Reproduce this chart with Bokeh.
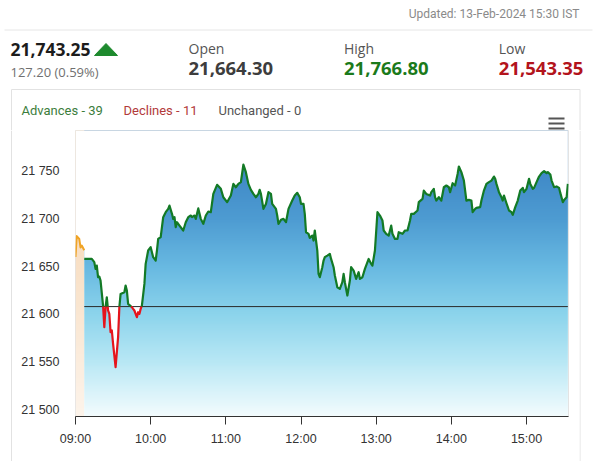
import numpy as np
from bokeh.plotting import figure
from bokeh.layouts import column, row
from bokeh.models import FixedTicker, Range1d
from bokeh.core.properties import value
from bokeh.embed import file_html
from bokeh.resources import INLINE

# ---------------- data ----------------
updated_text = "Updated: 13-Feb-2024 15:30 IST"
last_price = "21,743.25"
change_text = "127.20 (0.59%)"
stat_names = ["Open", "High", "Low"]
stat_values = ["21,664.30", "21,766.80", "21,543.35"]
breadth_labels = ["Advances - 39", "Declines - 11", "Unchanged - 0"]

x_tick_labels = ["09:00", "10:00", "11:00", "12:00", "13:00", "14:00", "15:00"]
y_ticks = [21500, 21550, 21600, 21650, 21700, 21750]
y_tick_labels = ["21 500", "21 550", "21 600", "21 650", "21 700", "21 750"]

ref_level = 21608

pre_times = ["09:00", "09:01", "09:03", "09:04", "09:05", "09:07"]
pre_values = [21660, 21682, 21679, 21670, 21672, 21667]

times = [
    "09:07", "09:13", "09:15", "09:16", "09:17", "09:18", "09:19", "09:20", "09:22", "09:23",
    "09:24", "09:25", "09:26", "09:27", "09:28", "09:29", "09:30", "09:32", "09:34", "09:35",
    "09:36", "09:39", "09:40", "09:41", "09:42", "09:45", "09:46", "09:47", "09:49", "09:50",
    "09:51", "09:52", "09:53", "09:55", "09:56", "09:58", "10:00", "10:02", "10:04", "10:05",
    "10:06", "10:08", "10:10", "10:12", "10:14", "10:15", "10:17", "10:18", "10:19", "10:20",
    "10:21", "10:23", "10:26", "10:28", "10:30", "10:32", "10:33", "10:35", "10:36", "10:38",
    "10:40", "10:42", "10:44", "10:46", "10:48", "10:50", "10:53", "10:56", "10:58", "11:01",
    "11:04", "11:06", "11:08", "11:10", "11:12", "11:14", "11:16", "11:18", "11:20", "11:22",
    "11:24", "11:26", "11:27", "11:28", "11:30", "11:32", "11:34", "11:36", "11:37", "11:40",
    "11:41", "11:42", "11:44", "11:46", "11:48", "11:50", "11:53", "11:55", "11:57", "11:59",
    "12:00", "12:02", "12:03", "12:04", "12:06", "12:07", "12:09", "12:10", "12:11", "12:13",
    "12:14", "12:15", "12:17", "12:18", "12:19", "12:21", "12:23", "12:24", "12:26", "12:27",
    "12:29", "12:31", "12:33", "12:34", "12:35", "12:37", "12:39", "12:40", "12:42", "12:44",
    "12:46", "12:47", "12:49", "12:51", "12:54", "12:56", "12:57", "12:59", "13:01", "13:03",
    "13:05", "13:06", "13:08", "13:10", "13:12", "13:13", "13:15", "13:17", "13:18", "13:21",
    "13:23", "13:25", "13:27", "13:28", "13:30", "13:33", "13:34", "13:37", "13:38", "13:40",
    "13:43", "13:44", "13:46", "13:47", "13:48", "13:50", "13:52", "13:54", "13:56", "13:58",
    "13:59", "14:01", "14:03", "14:05", "14:06", "14:08", "14:10", "14:11", "14:12", "14:14",
    "14:16", "14:17", "14:19", "14:20", "14:23", "14:24", "14:26", "14:28", "14:30", "14:32",
    "14:34", "14:35", "14:36", "14:38", "14:40", "14:41", "14:42", "14:44", "14:46", "14:48",
    "14:49", "14:51", "14:53", "14:55", "14:57", "14:58", "15:00", "15:02", "15:03", "15:05",
    "15:06", "15:08", "15:10", "15:12", "15:14", "15:16", "15:17", "15:19", "15:20", "15:22",
    "15:24", "15:26", "15:27", "15:29", "15:30", "15:32", "15:33",
]
values = [
    21658, 21658, 21654.6, 21647.5, 21651, 21638.8, 21639.5, 21635.3, 21609.1, 21586.4,
    21607.4, 21617.8, 21603.9, 21600.3, 21581.1, 21582.9, 21568.9, 21544.4, 21575.9, 21607.4,
    21621.3, 21623.1, 21630.1, 21624.8, 21610.8, 21607.4, 21605.6, 21603.9, 21596.9, 21602.1,
    21600.3, 21605.6, 21609.1, 21631.8, 21652.8, 21666.8, 21670.3, 21659.8, 21656.3, 21666.8,
    21679, 21680.8, 21701.8, 21707, 21710.5, 21714, 21705.3, 21700, 21701.8, 21691.3,
    21696.5, 21693, 21687.8, 21696.5, 21701.8, 21703.5, 21701.8, 21703.5, 21700, 21711,
    21700, 21694.8, 21703.5, 21707.7, 21707, 21726.2, 21735.7, 21731.5, 21722.7, 21717.5,
    21724.5, 21736.7, 21733.2, 21736.7, 21738.5, 21757, 21749, 21736.7, 21730.4, 21726.2,
    21722.7, 21726.2, 21730.4, 21726.2, 21710.5, 21715.7, 21728, 21726.2, 21715.7, 21710.5,
    21703.5, 21694.8, 21699, 21700, 21696.5, 21710.5, 21719.2, 21724.5, 21727.3, 21722.7,
    21715.7, 21715.7, 21705.3, 21686, 21684.3, 21680.1, 21682.5, 21677.3, 21687.8, 21666.8,
    21642.3, 21638.8, 21649.3, 21656.3, 21659.8, 21661.5, 21663.3, 21658, 21649.3, 21640.6,
    21628.3, 21626.6, 21633.6, 21642.3, 21633.6, 21619.6, 21635.3, 21649.3, 21645.8, 21637.1,
    21644.1, 21637.1, 21638.8, 21647.6, 21658, 21652.8, 21651, 21666.8, 21707, 21703.5,
    21698.3, 21687.8, 21684.3, 21682.5, 21693, 21684.3, 21679, 21679, 21686, 21684.3,
    21687.8, 21687.8, 21698.3, 21705.3, 21705.3, 21708.8, 21717.5, 21721, 21729.7, 21726.2,
    21724.5, 21728, 21731.5, 21722.7, 21719.2, 21722.7, 21719.2, 21733.2, 21735, 21733.2,
    21728, 21737.4, 21735, 21747.2, 21754.9, 21749, 21740.2, 21729.7, 21719.2, 21719.9,
    21719.2, 21707, 21710.5, 21711.6, 21712.3, 21719.2, 21729.7, 21736.7, 21738.5, 21740.2,
    21744.4, 21742, 21736.7, 21728, 21722.7, 21719.2, 21724.5, 21716.4, 21708.8, 21707,
    21704.2, 21712.3, 21719.2, 21729.7, 21732.5, 21728, 21731.5, 21742, 21736.7, 21731.5,
    21732.5, 21738.5, 21744.4, 21747.9, 21750, 21747.9, 21749, 21746.5, 21740.2, 21733.2,
    21734, 21732.5, 21727, 21717.5, 21719.9, 21722.7, 21736.7,
]

# ---------------- helpers ----------------
def to_min(s):
    h, m = s.split(":")
    return (int(h) - 9) * 60 + int(m)

pre_x = [to_min(s) for s in pre_times]
main_x = [to_min(s) for s in times]
x_ticks = [to_min(s) for s in x_tick_labels]

# split the line into above (green) / below (red) parts at the reference level
ax, ay = [main_x[0]], [values[0]]
for i in range(1, len(main_x)):
    a, b = values[i - 1], values[i]
    if (a - ref_level) * (b - ref_level) < 0:
        f = (ref_level - a) / (b - a)
        ax.append(main_x[i - 1] + f * (main_x[i] - main_x[i - 1]))
        ay.append(ref_level)
    ax.append(main_x[i])
    ay.append(values[i])
ay = np.array(ay, dtype=float)
green_y = np.where(ay >= ref_level, ay, np.nan)
red_y = np.where(ay <= ref_level, ay, np.nan)

Y0, Y1 = 21492.7, 21792.7
X0, X1 = 0, 393.5

def gradient(stops, n=300):
    fr = np.linspace(0, 1, n)
    img = np.zeros((n, 1), dtype=np.uint32)
    view = img.view(dtype=np.uint8).reshape((n, 1, 4))
    pos = [s[0] for s in stops]
    for c in range(3):
        view[:, 0, c] = np.interp(fr, pos, [s[1][c] for s in stops]).astype(np.uint8)
    view[:, 0, 3] = 255
    return img

blue_img = gradient([(0.0, (244, 252, 254)), (0.19, (185, 232, 245)), (0.36, (140, 212, 236)),
                     (0.52, (105, 186, 226)), (0.69, (78, 156, 210)), (1.0, (52, 122, 190))])
peach_img = gradient([(0.0, (253, 244, 235)), (0.6, (248, 222, 194)), (1.0, (246, 212, 174))])

W = 602
CARD = "#e2e2e2"

def pixel_fig(width, height):
    f = figure(width=width, height=height, output_backend="svg", toolbar_location=None,
               x_range=Range1d(0, width), y_range=Range1d(height, 0),
               min_border=0, x_axis_location=None, y_axis_location=None)
    f.frame_align = False
    f.outline_line_color = None
    f.grid.visible = False
    f.background_fill_color = "white"
    f.border_fill_color = "white"
    return f

# ---------------- header figure (pixel coordinates) ----------------
HH = 130
h = pixel_fig(W, HH)

def htext(txt, x, y, size, color, font="Open Sans", style="normal", align="left"):
    h.text(x=[x], y=[y], text=[txt], text_font=value(font), text_font_size=value(size),
           text_color=color, text_font_style=style, text_align=align, text_baseline="middle")

htext(updated_text, 579, 13.5, "12px", "#8a8a8a", font="Roboto", align="right")
h.segment(x0=[4], y0=[29.5], x1=[592], y1=[29.5], line_color="#e6e6e6", line_width=1)
htext(last_price, 10, 49, "17.5px", "#1c1c1c", style="bold")
h.patch(x=[94, 117, 105.5], y=[55, 55, 43], fill_color="#1e8a2e", line_color="#1e8a2e")
htext(change_text, 10, 71, "13px", "#707070")
stat_x = [188, 343.5, 498.3]
stat_colors = ["#3d3d3d", "#1b7a1b", "#b3141c"]
for nm, vl, sx, sc in zip(stat_names, stat_values, stat_x, stat_colors):
    htext(nm, sx, 47.5, "14px", "#555555")
    htext(vl, sx, 67.5, "18.5px", sc, style="bold")

# card edges (upper part)
h.segment(x0=[11, 11, 579.5], y0=[89, 89, 89], x1=[579.5, 11, 579.5], y1=[89, HH, HH],
          line_color=CARD, line_width=1)

breadth_x = [21, 123, 218]
breadth_colors = ["#3c7d3c", "#b23a3a", "#555555"]
for t, bx, bc in zip(breadth_labels, breadth_x, breadth_colors):
    htext(t, bx, 110, "13px", bc, font="Roboto")

# menu icon
h.segment(x0=[548] * 3, y0=[118, 123, 128], x1=[564] * 3, y1=[118, 123, 128],
          line_color="#555555", line_width=2.2)

# ---------------- chart figure ----------------
CH = 331
LW, RW = 12, 23
p = figure(width=W - LW - RW, height=CH, output_backend="svg", toolbar_location=None,
           x_range=Range1d(X0, X1), y_range=Range1d(Y0, Y1),
           min_border_left=75 - LW, min_border_right=(W - RW) - 568, min_border_top=0,
           min_border_bottom=45)
p.frame_align = False
p.background_fill_color = "white"
p.border_fill_color = "white"
p.outline_line_color = "#e3e3e3"
p.grid.visible = False

p.image_rgba(image=[peach_img], x=pre_x[0], y=Y0, dw=main_x[0] - pre_x[0], dh=Y1 - Y0)
p.image_rgba(image=[blue_img], x=main_x[0], y=Y0, dw=main_x[-1] - main_x[0], dh=Y1 - Y0)

all_x = pre_x + main_x
all_y = pre_values + values
p.varea(x=all_x, y1=all_y, y2=[Y1] * len(all_x), fill_color="white")

p.line([main_x[0], main_x[-1]], [ref_level, ref_level], line_color="#2b2b2b", line_width=1)
p.line(pre_x, pre_values, line_color="#f0a425", line_width=2, line_join="round")
p.line(ax, green_y, line_color="#137a26", line_width=2.2, line_join="round")
p.line(ax, red_y, line_color="#e5141c", line_width=2.2, line_join="round")

xa = p.xaxis[0]
xa.ticker = FixedTicker(ticks=x_ticks)
xa.major_label_overrides = {t: l for t, l in zip(x_ticks, x_tick_labels)}
xa.axis_line_color = "#333333"
xa.major_tick_line_color = "#333333"
xa.major_tick_out = 8
xa.major_tick_in = 0
xa.minor_tick_line_color = None
xa.major_label_text_font = "Liberation Sans"
xa.major_label_text_font_size = "12.5px"
xa.major_label_text_color = "#333333"
xa.major_label_standoff = 7

ya = p.yaxis[0]
ya.ticker = FixedTicker(ticks=y_ticks)
ya.major_label_overrides = {t: l for t, l in zip(y_ticks, y_tick_labels)}
ya.axis_line_color = None
ya.major_tick_line_color = None
ya.major_tick_out = 0
ya.major_tick_in = 0
ya.minor_tick_line_color = None
ya.major_label_text_font = "Liberation Sans"
ya.major_label_text_font_size = "12.5px"
ya.major_label_text_color = "#333333"
ya.major_label_standoff = 16

# card edges (lower part): thin side strips and a bottom strip
ls = pixel_fig(LW, CH)
ls.segment(x0=[11], y0=[0], x1=[11], y1=[CH], line_color=CARD, line_width=1)
rs = pixel_fig(RW, CH)
rs.segment(x0=[0.5], y0=[0], x1=[0.5], y1=[CH], line_color=CARD, line_width=1)
bs = pixel_fig(W, 466 - HH - CH)
bs.segment(x0=[11], y0=[0.5], x1=[579.5], y1=[0.5], line_color=CARD, line_width=1)

layout = column(h, row(ls, p, rs, spacing=0), bs, spacing=0)
open("out.html", "w").write(file_html(layout, INLINE))
